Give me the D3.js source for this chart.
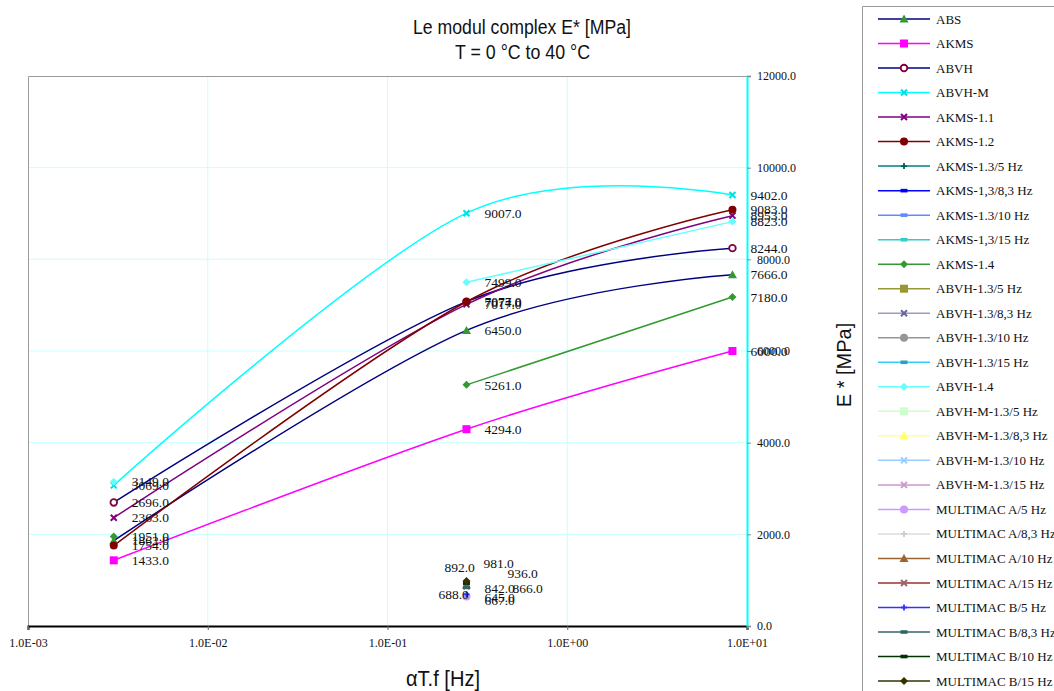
<!DOCTYPE html>
<html>
<head>
<meta charset="utf-8">
<script src="https://cdn.jsdelivr.net/npm/d3@7"></script>
<style>
  body { margin: 0; background: #fff; }
  svg { display: block; }
  text { font-family: "Liberation Serif", "Times New Roman", serif; fill: #111; }
  .ttl { font-family: "Liberation Sans Narrow", "Arial Narrow", "Liberation Sans", sans-serif; }
</style>
</head>
<body>
<div id="chart"></div>
<script>
// frequencies (aT.f, Hz) of the three measured points
var freqs = [0.003, 0.275, 8.3];

// E* values [MPa] per mix
var ABS      = [1862, 6450, 7666];
var AKMS     = [1433, 4294, 6000];
var ABVH     = [2696, 7077, 8244];
var ABVH_M   = [3069, 9007, 9402];
var AKMS_1_1 = [2363, 7017, 8953];
var AKMS_1_2 = [1754, 7074, 9083];
var AKMS_1_4 = [1951, 5261, 7180];
var ABVH_1_4 = [3149, 7499, 8823];

// single points of the MULTIMAC series
var multimacFreq  = 0.275;
var multimacNames = ["MULTIMAC A/5 Hz", "MULTIMAC A/8,3 Hz", "MULTIMAC A/10 Hz", "MULTIMAC A/15 Hz",
                     "MULTIMAC B/5 Hz", "MULTIMAC B/8,3 Hz", "MULTIMAC B/10 Hz", "MULTIMAC B/15 Hz"];
var multimacVals  = [645, 667, 892, 866, 688, 842, 936, 981];

var legendNames = ["ABS", "AKMS", "ABVH", "ABVH-M", "AKMS-1.1", "AKMS-1.2", "AKMS-1.3/5 Hz",
    "AKMS-1,3/8,3 Hz", "AKMS-1.3/10 Hz", "AKMS-1,3/15 Hz", "AKMS-1.4", "ABVH-1.3/5 Hz",
    "ABVH-1.3/8,3 Hz", "ABVH-1.3/10 Hz", "ABVH-1.3/15 Hz", "ABVH-1.4", "ABVH-M-1.3/5 Hz",
    "ABVH-M-1.3/8,3 Hz", "ABVH-M-1.3/10 Hz", "ABVH-M-1.3/15 Hz"].concat(multimacNames);

var yTicks = [0, 2000, 4000, 6000, 8000, 10000, 12000];
var xTicks = [0.001, 0.01, 0.1, 1, 10];

// look of every series: line colour, marker, marker colour
var look = {
    "ABS": ["#000080", "triangle", "#339933"],
    "AKMS": ["#ff00ff", "square", "#ff00ff"],
    "ABVH": ["#000080", "ring", "#800040"],
    "ABVH-M": ["#00ffff", "x", "#00e0e0"],
    "AKMS-1.1": ["#800080", "x", "#800080"],
    "AKMS-1.2": ["#800000", "circle", "#800000"],
    "AKMS-1.3/5 Hz": ["#008080", "plus", "#006060"],
    "AKMS-1,3/8,3 Hz": ["#0000ff", "dash", "#0000ff"],
    "AKMS-1.3/10 Hz": ["#6688ff", "dash", "#6688ff"],
    "AKMS-1,3/15 Hz": ["#33cccc", "dash", "#33cccc"],
    "AKMS-1.4": ["#339933", "diamond", "#339933"],
    "ABVH-1.3/5 Hz": ["#999933", "square", "#999933"],
    "ABVH-1.3/8,3 Hz": ["#9999cc", "x", "#666699"],
    "ABVH-1.3/10 Hz": ["#969696", "circle", "#969696"],
    "ABVH-1.3/15 Hz": ["#33ccff", "dash", "#3399cc"],
    "ABVH-1.4": ["#66ffff", "diamond", "#66ffff"],
    "ABVH-M-1.3/5 Hz": ["#ccffcc", "square", "#ccffcc"],
    "ABVH-M-1.3/8,3 Hz": ["#ffff99", "triangle", "#ffff66"],
    "ABVH-M-1.3/10 Hz": ["#99ccff", "x", "#99ccff"],
    "ABVH-M-1.3/15 Hz": ["#cc99cc", "x", "#cc99cc"],
    "MULTIMAC A/5 Hz": ["#cc99ff", "circle", "#cc99ff"],
    "MULTIMAC A/8,3 Hz": ["#dddddd", "plus", "#cccccc"],
    "MULTIMAC A/10 Hz": ["#996633", "triangle", "#996633"],
    "MULTIMAC A/15 Hz": ["#993333", "x", "#996666"],
    "MULTIMAC B/5 Hz": ["#3333ff", "plus", "#3333ff"],
    "MULTIMAC B/8,3 Hz": ["#336666", "dash", "#336666"],
    "MULTIMAC B/10 Hz": ["#003300", "dash", "#003300"],
    "MULTIMAC B/15 Hz": ["#333300", "diamond", "#333300"]
};

// series whose first point is not joined to the rest
var detached = ["AKMS-1.4", "ABVH-1.4"];

// hand-moved data labels of the MULTIMAC cluster [dx, dy]
var labelNudge = {
    "MULTIMAC B/15 Hz": [-1, -18], "MULTIMAC B/10 Hz": [23, -10], "MULTIMAC A/10 Hz": [-40, -18],
    "MULTIMAC A/15 Hz": [28, 2], "MULTIMAC B/8,3 Hz": [0, 1], "MULTIMAC B/5 Hz": [-46, 0],
    "MULTIMAC A/8,3 Hz": [0, 5], "MULTIMAC A/5 Hz": [0, 1]
};

var lined = [
    ["ABS", ABS], ["AKMS", AKMS], ["ABVH", ABVH], ["ABVH-M", ABVH_M],
    ["AKMS-1.1", AKMS_1_1], ["AKMS-1.2", AKMS_1_2], ["AKMS-1.4", AKMS_1_4], ["ABVH-1.4", ABVH_1_4]
].map(function(s) {
    return { name: s[0], pts: s[1].map(function(v, i) { return { x: freqs[i], y: v, i: i }; }) };
});
var singles = multimacNames.map(function(n, i) {
    return { name: n, pts: [{ x: multimacFreq, y: multimacVals[i], i: 0 }] };
});
var allSeries = lined.concat(singles);

var W = 1054, H = 691;
var svg = d3.select("#chart").append("svg").attr("width", W).attr("height", H);

var x = d3.scaleLog().domain([0.001, 10]).range([28, 747]);
var y = d3.scaleLinear().domain([0, 12000]).range([626, 76]);

// grid
var grid = svg.append("g");
grid.selectAll(".gy").data(yTicks.slice(1, -1)).enter().append("line")
    .attr("x1", 28).attr("x2", 747)
    .attr("y1", function(d) { return y(d); }).attr("y2", function(d) { return y(d); })
    .attr("stroke", "#c8ffff").attr("stroke-width", 1);
grid.selectAll(".gx").data(xTicks.slice(1, -1)).enter().append("line")
    .attr("x1", function(d) { return x(d); }).attr("x2", function(d) { return x(d); })
    .attr("y1", 76).attr("y2", 626)
    .attr("stroke", "#c8ffff").attr("stroke-width", 1);

// frame: gray left/top, cyan right axis
svg.append("path").attr("d", "M28.5,626V76.5H747").attr("fill", "none").attr("stroke", "#9a9a9a");

function fmtExp(d) {
    var e = Math.round(Math.log10(d));
    var s = e < 0 ? "-" : "+";
    return "1.0E" + s + (Math.abs(e) < 10 ? "0" : "") + Math.abs(e);
}

var xAxis = svg.append("g").attr("transform", "translate(0,626)")
    .call(d3.axisBottom(x).tickValues(xTicks).tickFormat(fmtExp).tickSize(4).tickPadding(8));
xAxis.select(".domain").attr("stroke", "#000").attr("stroke-width", 2);
xAxis.selectAll(".tick line").attr("stroke", "#666");
xAxis.selectAll("text").style("font-size", "12px").attr("fill", "#111")
    .style("font-family", "'Liberation Serif', serif");

var yAxis = svg.append("g").attr("transform", "translate(747,0)")
    .call(d3.axisRight(y).tickValues(yTicks).tickFormat(d3.format(".1f")).tickSize(4).tickPadding(6));
yAxis.select(".domain").attr("stroke", "#00ffff").attr("stroke-width", 2);
yAxis.selectAll(".tick line").attr("stroke", "#888");
yAxis.selectAll("text").style("font-size", "12px").attr("fill", "#111")
    .style("font-family", "'Liberation Serif', serif");

// markers
function marker(g, type, c, cx, cy) {
    var s = 4;
    if (type === "triangle") {
        g.append("path").attr("d", "M" + cx + "," + (cy - s - 0.5) + "L" + (cx + s + 0.5) + "," + (cy + s - 0.5) + "L" + (cx - s - 0.5) + "," + (cy + s - 0.5) + "Z").attr("fill", c);
    } else if (type === "square") {
        g.append("rect").attr("x", cx - s).attr("y", cy - s).attr("width", 2 * s).attr("height", 2 * s).attr("fill", c);
    } else if (type === "ring") {
        g.append("circle").attr("cx", cx).attr("cy", cy).attr("r", 3.3).attr("fill", "#fff").attr("stroke", c).attr("stroke-width", 1.8);
    } else if (type === "circle") {
        g.append("circle").attr("cx", cx).attr("cy", cy).attr("r", s).attr("fill", c);
    } else if (type === "x") {
        g.append("path").attr("d", "M" + (cx - 3) + "," + (cy - 3) + "L" + (cx + 3) + "," + (cy + 3) + "M" + (cx + 3) + "," + (cy - 3) + "L" + (cx - 3) + "," + (cy + 3))
            .attr("stroke", c).attr("stroke-width", 2);
    } else if (type === "plus") {
        g.append("path").attr("d", "M" + (cx - 3) + "," + cy + "H" + (cx + 3) + "M" + cx + "," + (cy - 3) + "V" + (cy + 3))
            .attr("stroke", c).attr("stroke-width", 1.8);
    } else if (type === "dash") {
        g.append("rect").attr("x", cx - 3.5).attr("y", cy - 1.8).attr("width", 7).attr("height", 3.6).attr("fill", c);
    } else if (type === "diamond") {
        g.append("path").attr("d", "M" + cx + "," + (cy - s) + "L" + (cx + s) + "," + cy + "L" + cx + "," + (cy + s) + "L" + (cx - s) + "," + cy + "Z").attr("fill", c);
    }
}

var line = d3.line()
    .defined(function(d) { return d.ok; })
    .x(function(d) { return x(d.x); })
    .y(function(d) { return y(d.y); })
    .curve(d3.curveCardinal.tension(0));

var lineLayer = svg.append("g");
lined.forEach(function(s) {
    var det = detached.indexOf(s.name) >= 0;
    var pts = s.pts.map(function(p) { return { x: p.x, y: p.y, ok: !(det && p.i === 0) }; });
    lineLayer.append("path").datum(pts).attr("d", line)
        .attr("fill", "none").attr("stroke", look[s.name][0]).attr("stroke-width", 1.5);
});

var markLayer = svg.append("g");
allSeries.forEach(function(s) {
    s.pts.forEach(function(p) { marker(markLayer, look[s.name][1], look[s.name][2], x(p.x), y(p.y)); });
});

var labelLayer = svg.append("g");
allSeries.forEach(function(s) {
    var nd = labelNudge[s.name] || [0, 0];
    s.pts.forEach(function(p) {
        labelLayer.append("text")
            .attr("x", x(p.x) + 18 + nd[0]).attr("y", y(p.y) + nd[1]).attr("dy", "0.35em")
            .style("font-size", "13.5px")
            .text(d3.format(".1f")(p.y));
    });
});

// titles (narrow face imitated by squeezing the glyphs)
svg.append("text").attr("class", "ttl").attr("x", 413).attr("y", 34)
    .attr("textLength", 218).attr("lengthAdjust", "spacingAndGlyphs")
    .style("font-size", "20px").text("Le modul complex E* [MPa]");
svg.append("text").attr("class", "ttl").attr("x", 455).attr("y", 59)
    .attr("textLength", 135).attr("lengthAdjust", "spacingAndGlyphs")
    .style("font-size", "20px").text("T = 0 °C to 40 °C");
svg.append("text").attr("class", "ttl").attr("x", 406).attr("y", 686)
    .attr("textLength", 74).attr("lengthAdjust", "spacingAndGlyphs")
    .style("font-size", "22px").text("αT.f [Hz]");
svg.append("text").attr("class", "ttl").attr("transform", "translate(851,365)rotate(-90)")
    .attr("text-anchor", "middle").style("font-size", "20px").text("E * [MPa]");

// legend
var leg = svg.append("g");
leg.append("path").attr("d", "M862.5,691V6.5H1054").attr("fill", "none").attr("stroke", "#9a9a9a");
legendNames.forEach(function(n, i) {
    var ly = 19 + i * 24.52;
    var st = look[n];
    leg.append("line").attr("x1", 878).attr("x2", 930).attr("y1", ly).attr("y2", ly)
        .attr("stroke", st[0]).attr("stroke-width", 1.5);
    marker(leg, st[1], st[2], 904, ly);
    leg.append("text").attr("x", 936).attr("y", ly).attr("dy", "0.35em")
        .style("font-size", "13px").text(n);
});
</script>
</body>
</html>
